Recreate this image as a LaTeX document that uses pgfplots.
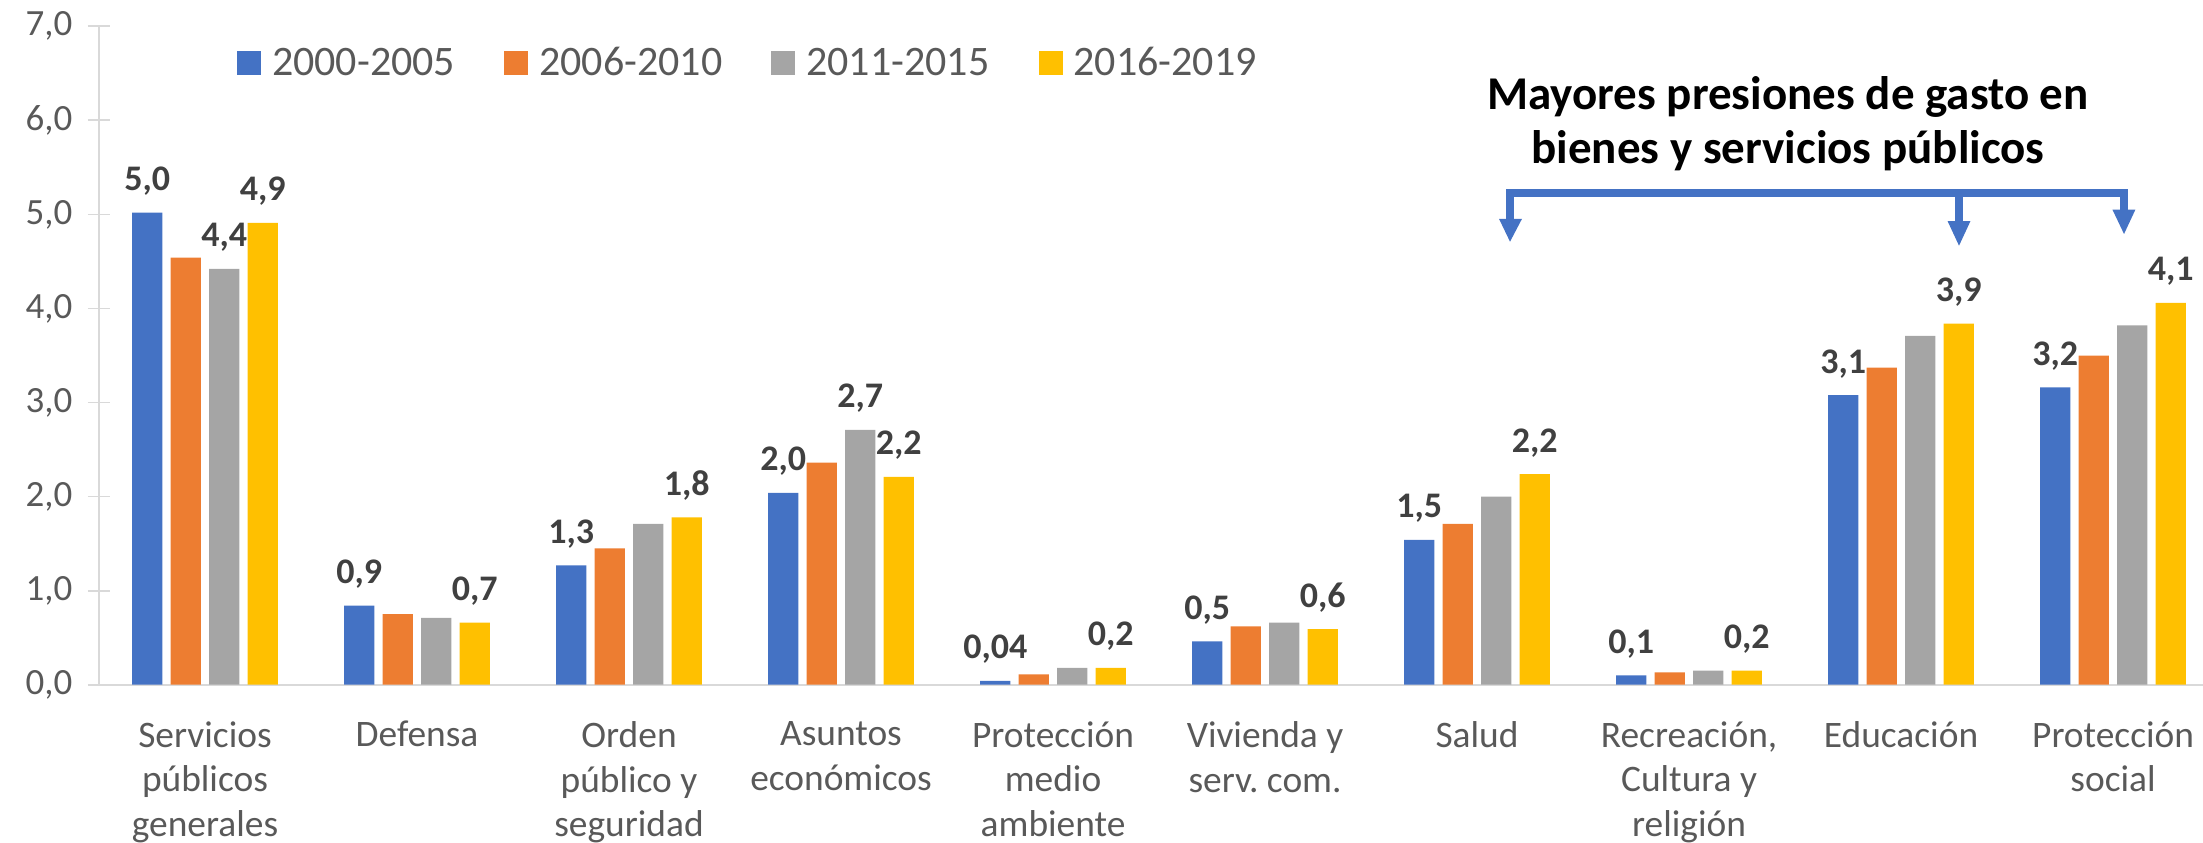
\documentclass[border=0pt]{standalone}
\usepackage{fontspec}
\setmainfont{Carlito}
\usepackage{pgfplots}
\usepackage{pgfplotstable}
\pgfplotsset{compat=1.18}
\definecolor{cblue}{HTML}{4472C4}
\definecolor{corange}{HTML}{ED7D31}
\definecolor{cgray}{HTML}{A5A5A5}
\definecolor{cyellow}{HTML}{FFC000}
\definecolor{txt}{HTML}{595959}
\definecolor{lbl}{HTML}{404040}
\definecolor{gridc}{HTML}{D9D9D9}
\frenchspacing

% one table per period: category index, value, data label
\pgfplotstableread{
x y lab
0 5.02 {5,0}
1 0.84 {0,9}
2 1.27 {1,3}
3 2.04 {2,0}
4 0.04 {0,04}
5 0.46 {0,5}
6 1.54 {1,5}
7 0.10 {0,1}
8 3.08 {3,1}
9 3.16 {3,2}
}\pa
\pgfplotstableread{
x y
0 4.54
1 0.75
2 1.45
3 2.36
4 0.11
5 0.62
6 1.71
7 0.13
8 3.37
9 3.50
}\pb
\pgfplotstableread{
x y lab
0 4.42 {4,4}
1 0.71 {}
2 1.71 {}
3 2.71 {2,7}
4 0.18 {}
5 0.66 {}
6 2.00 {}
7 0.15 {}
8 3.71 {}
9 3.82 {}
}\pc
\pgfplotstableread{
x y lab
0 4.91 {4,9}
1 0.66 {0,7}
2 1.78 {1,8}
3 2.21 {2,2}
4 0.18 {0,2}
5 0.59 {0,6}
6 2.24 {2,2}
7 0.15 {0,2}
8 3.84 {3,9}
9 4.06 {4,1}
}\pd

\begin{document}
\begin{tikzpicture}
\useasboundingbox (0,0) rectangle (1101.5pt,421pt);
\begin{axis}[
  at={(49.5pt,78.65pt)}, anchor=south west,
  scale only axis,
  width=1052pt, height=329.2pt,
  xmin=-0.5, xmax=9.425,
  ymin=0, ymax=7,
  ybar=4.1pt, bar width=15.15pt,
  axis lines=left,
  axis line style={-, draw=gridc, line width=0.9pt},
  xtick={0,...,9},
  xticklabels={{Servicios\\públicos\\generales}, {Defensa}, {Orden\\público y\\seguridad},
    {Asuntos\\económicos}, {Protección\\medio\\ambiente}, {Vivienda y\\serv.\ com.},
    {Salud}, {Recreación,\\Cultura y\\religión}, {Educación}, {Protección\\social}},
  xtick style={draw=none},
  xticklabel style={align=center, inner sep=0pt, anchor=north, yshift=-12.6pt,
    font=\fontsize{18.7}{22.4}\selectfont, text=txt},
  ytick={0,...,7},
  tick align=center,
  major tick length=11pt,
  ytick style={draw=gridc, line width=0.9pt},
  yticklabel style={/pgf/number format/.cd, fixed, fixed zerofill, precision=1, use comma, assume math mode=true,
    /tikz/.cd, anchor=east, inner sep=0pt, xshift=-7.6pt,
    font=\fontsize{18.5}{22}\selectfont, text=txt},
  legend columns=4,
  legend style={at={(0.0656,0.9438)}, anchor=west, draw=none, fill=none,
    inner sep=0pt, outer sep=0pt,
    font=\fontsize{21}{25}\selectfont, text=txt,
    nodes={inner sep=0pt},
    /tikz/every odd column/.append style={column sep=5.5pt},
    /tikz/every even column/.append style={column sep=24.5pt}},
  legend image code/.code={\fill[#1] (0pt,-6pt) rectangle (12pt,6pt);},
  every node near coord/.append style={anchor=base, yshift=11pt, inner sep=0pt,
    font=\bfseries\fontsize{18}{22}\selectfont, text=lbl},
]
\addplot[fill=cblue, draw=none, nodes near coords, point meta=explicit symbolic]
  table[x=x, y=y, meta=lab] {\pa};
\addplot[fill=corange, draw=none] table[x=x, y=y] {\pb};
\addplot[fill=cgray, draw=none, nodes near coords, point meta=explicit symbolic]
  table[x=x, y=y, meta=lab] {\pc};
\addplot[fill=cyellow, draw=none, nodes near coords, point meta=explicit symbolic]
  table[x=x, y=y, meta=lab] {\pd};
\legend{2000-2005, 2006-2010, 2011-2015, 2016-2019}
\end{axis}

% annotation
\node[anchor=base, font=\bfseries\fontsize{23.5}{27}\selectfont] at (894pt,366pt) {Mayores presiones de gasto en};
\node[anchor=base, font=\bfseries\fontsize{23.5}{27}\selectfont] at (894pt,339.1pt) {bienes y servicios públicos};
\draw[cblue, line width=4pt, line join=miter]
  (755pt,311.35pt) -- (755pt,324.35pt) -- (1062pt,324.35pt) -- (1062pt,316pt);
\draw[cblue, line width=4pt] (979.5pt,324.35pt) -- (979.5pt,310.15pt);
\fill[cblue] (749.5pt,311.6pt) -- (761pt,311.6pt) -- (755pt,300.15pt) -- cycle;
\fill[cblue] (973.8pt,310.4pt) -- (985.2pt,310.4pt) -- (979.5pt,298.15pt) -- cycle;
\fill[cblue] (1056.2pt,316.2pt) -- (1067.7pt,316.2pt) -- (1062pt,304pt) -- cycle;
\end{tikzpicture}
\end{document}
